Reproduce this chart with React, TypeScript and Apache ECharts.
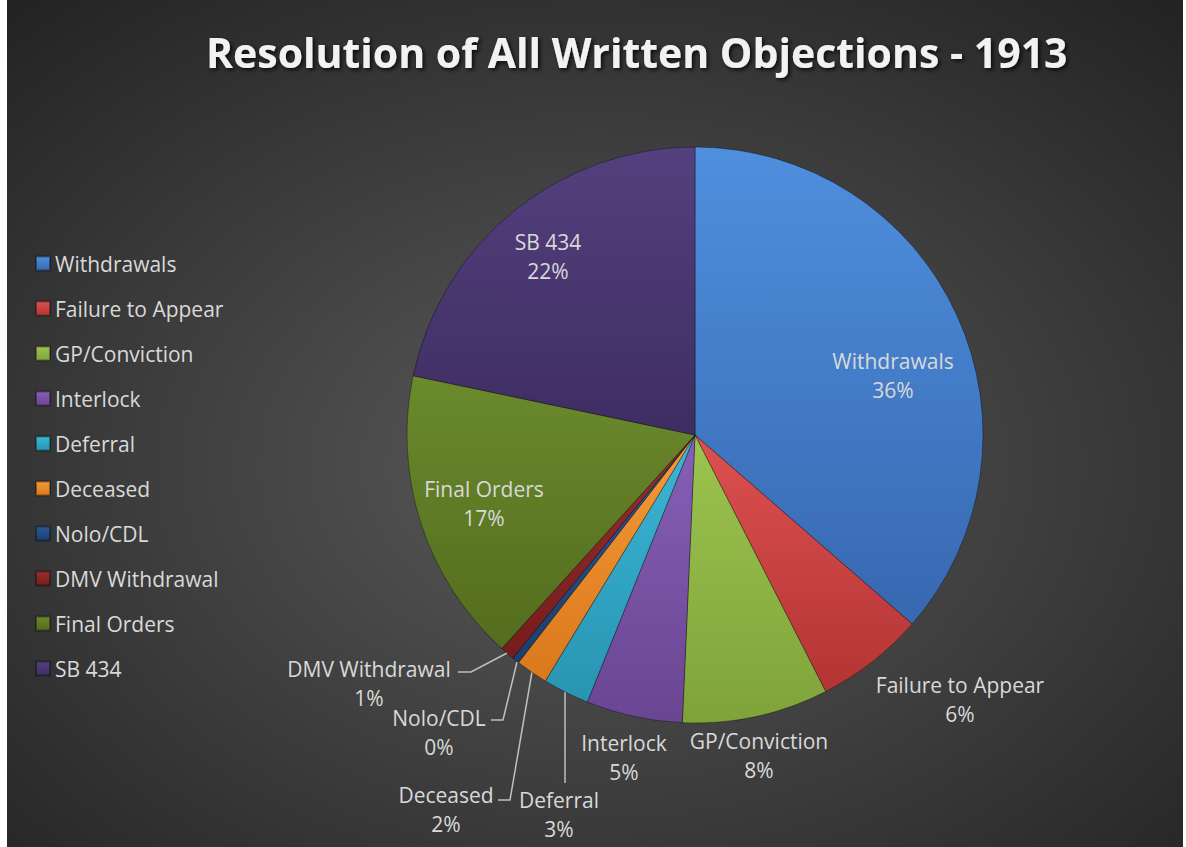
import React, { useEffect, useRef } from "react";
import * as echarts from "echarts";

const categories = [
  "Withdrawals",
  "Failure to Appear",
  "GP/Conviction",
  "Interlock",
  "Deferral",
  "Deceased",
  "Nolo/CDL",
  "DMV Withdrawal",
  "Final Orders",
  "SB 434",
];
const values = [36.4, 6.1, 8.2, 5.4, 2.6, 1.8, 0.4, 0.8, 16.6, 21.7];
const colorsLight = ["#4f8fde", "#de5050", "#9cc44f", "#8660b6", "#3cb6d6", "#f79a38", "#2a5a96", "#9c2e2e", "#6b8a2c", "#54407e"];
const colorsDark = ["#3768b0", "#b33434", "#7fa33a", "#6a4592", "#2894b2", "#d9781c", "#1b3f6e", "#741c1c", "#536c1e", "#3e2d62"];
const insideLabels = ["Withdrawals", "Final Orders", "SB 434"];
const leaderLabels = ["Deferral", "Deceased", "Nolo/CDL", "DMV Withdrawal"];
// label centres (chart px)
const labelPos: Record<string, [number, number]> = {
  "Withdrawals": [886, 375],
  "Failure to Appear": [953, 699],
  "GP/Conviction": [752, 755],
  "Interlock": [617, 757],
  "Deferral": [552, 814],
  "Deceased": [439, 809],
  "Nolo/CDL": [432, 732],
  "DMV Withdrawal": [362, 683],
  "Final Orders": [477, 503],
  "SB 434": [541, 256],
};
// leader line routes (chart px)
const leaderPts: Record<string, number[][]> = {
  "Deferral": [[558, 692], [558, 738], [558, 783]],
  "Deceased": [[525, 672], [503, 800], [491, 800]],
  "Nolo/CDL": [[510, 662], [496, 720], [484, 720]],
  "DMV Withdrawal": [[502, 652], [464, 672], [451, 672]],
};

export default function App() {
  const ref = useRef<HTMLDivElement>(null);
  useEffect(() => {
    const chart = echarts.init(ref.current!, undefined, { renderer: "svg" });
    const data = categories.map((name, i) => ({
      name,
      value: values[i],
      itemStyle: {
        color: new echarts.graphic.LinearGradient(0, 0, 0, 1, [
          { offset: 0, color: colorsLight[i] },
          { offset: 1, color: colorsDark[i] },
        ]),
      },
      label: { position: insideLabels.includes(name) ? "inside" : "outside" },
      labelLine: { show: leaderLabels.includes(name) },
    }));
    chart.setOption({
      animation: false,
      backgroundColor: {
        type: "radial",
        x: 0.5,
        y: 0.55,
        r: 0.75,
        colorStops: [
          { offset: 0, color: "#5a5a5a" },
          { offset: 1, color: "#222222" },
        ],
      },
      textStyle: { fontFamily: "Open Sans" },
      title: {
        text: "Resolution of All Written Objections - 1913",
        left: 194,
        top: 26,
        textStyle: {
          color: "#f2f2f2",
          fontSize: 41,
          fontWeight: "bold",
          fontFamily: "Open Sans",
          textShadowColor: "rgba(0,0,0,0.8)",
          textShadowBlur: 4,
          textShadowOffsetX: 2,
          textShadowOffsetY: 2,
        },
      },
      legend: {
        orient: "vertical",
        left: 23,
        top: 248,
        itemWidth: 14,
        itemHeight: 14,
        itemGap: 24,
        icon: "rect",
        textStyle: { color: "#d9d9d9", fontSize: 21, fontFamily: "Open Sans" },
        data: categories,
      },
      series: [
        {
          type: "pie",
          center: [688, 435],
          radius: 288,
          startAngle: 90,
          clockwise: true,
          data,
          itemStyle: { borderColor: "rgba(0,0,0,0.35)", borderWidth: 1 },
          label: {
            color: "#d9d9d9",
            fontSize: 21,
            fontFamily: "Open Sans",
            lineHeight: 29,
            align: "center",
            formatter: (p: any) => `${p.name}\n${Math.round(p.percent)}%`,
          },
          labelLine: {
            show: true,
            length: 10,
            length2: 10,
            lineStyle: { color: "#bfbfbf", width: 1.5 },
          },
          labelLayout: (params: any) => {
            const name = categories[params.dataIndex];
            const pos = labelPos[name];
            const out: any = {
              x: pos[0],
              y: pos[1],
              align: "center",
              verticalAlign: "middle",
            };
            if (leaderPts[name]) out.labelLinePoints = leaderPts[name];
            return out;
          },
        },
      ],
    });
    return () => chart.dispose();
  }, []);
  return (
    <div
      ref={ref}
      style={{ position: "absolute", left: 7, top: 0, width: 1176, height: 847 }}
    />
  );
}
